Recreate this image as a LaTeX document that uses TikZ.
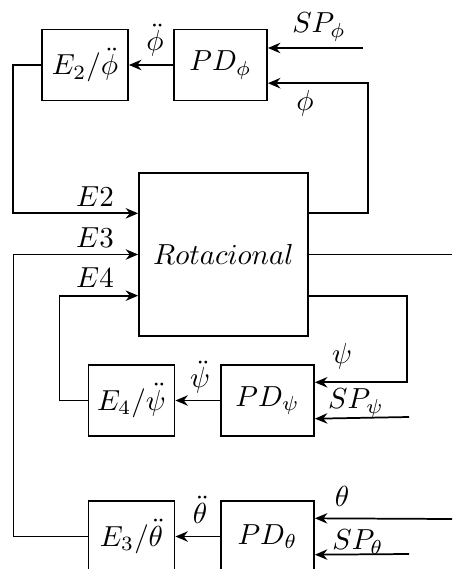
\documentclass[tikz,border=0pt]{standalone}
\usepackage{amsmath,amssymb}
\usepackage{tikz}
\usetikzlibrary{arrows.meta,positioning,calc}

\begin{document}
\begin{tikzpicture}[x=0.345pt,y=-0.345pt,
  blk/.style={draw,line width=0.6pt,minimum width=29.7pt,minimum height=24.5pt,inner sep=0pt},
  pdblk/.style={blk,minimum width=32.1pt},
  arr/.style={-{Stealth[length=4.3pt,width=3.6pt]},line width=0.6pt},
  wire/.style={line width=0.6pt},
  lbl/.style={inner sep=0pt}
]
\useasboundingbox (0,0) rectangle (452,569);
% bloques
\node[blk] (e2) at (85,65) {$E_2/\ddot{\phi}$};
\node[pdblk] (pdphi) at (220.5,65) {$PD_{\phi}$};
\node[draw,line width=0.6pt,minimum width=58.3pt,minimum height=56.2pt] (rot) at (223.5,254.5) {$Rotacional$};
\node[blk] (e4) at (131.5,400.5) {$E_4/\ddot{\psi}$};
\node[pdblk] (pdpsi) at (267.5,400.5) {$PD_{\psi}$};
\node[blk] (e3) at (131.5,536.5) {$E_3/\ddot{\theta}$};
\node[pdblk] (pdth) at (267.5,536.5) {$PD_{\theta}$};
% puntos de entrada y salida
\coordinate (rl1) at ($(rot.north west)!0.25!(rot.south west)$);
\coordinate (rl3) at ($(rot.north west)!0.75!(rot.south west)$);
\coordinate (rr1) at ($(rot.north east)!0.25!(rot.south east)$);
\coordinate (rr3) at ($(rot.north east)!0.75!(rot.south east)$);
\coordinate (phia) at ($(pdphi.north east)!0.25!(pdphi.south east)$);
\coordinate (phib) at ($(pdphi.north east)!0.75!(pdphi.south east)$);
\coordinate (psia) at ($(pdpsi.north east)!0.25!(pdpsi.south east)$);
\coordinate (psib) at ($(pdpsi.north east)!0.75!(pdpsi.south east)$);
\coordinate (tha) at ($(pdth.north east)!0.25!(pdth.south east)$);
\coordinate (thb) at ($(pdth.north east)!0.75!(pdth.south east)$);
\coordinate (spphi) at (363,48);
\coordinate (sppsi) at (409,417);
\coordinate (thin) at (452,519);
\coordinate (spth) at (409,554);
\coordinate (out) at (452,254.5);
% conexiones
\draw[arr] (pdphi) -- (e2);
\draw[arr] (pdpsi) -- (e4);
\draw[arr] (pdth) -- (e3);
\draw[arr] (spphi) -- (spphi -| phia);
\draw[arr] (rr1) -- ++(59,0) |- (phib);
\draw[arr] (rr3) -- ++(98,0) |- (psia);
\draw[arr] (sppsi) -- (psib);
\draw[arr] (thin) -- (tha);
\draw[arr] (spth) -- (thb);
\draw[wire] (rot.east) -- (out);
\draw[arr] (e2.west) -- ++(-28,0) |- (rl1);
\draw[arr] (e3.west) -- ++(-74,0) |- (rot.west);
\draw[arr] (e4.west) -- ++(-28,0) |- (rl3);
% etiquetas
\node[lbl] (le2) at (95,197) {$E2$};
\node[lbl] (le3) at (95,238) {$E3$};
\node[lbl] (le4) at (95,278) {$E4$};
\node[lbl] (lddphi) at (155,40) {$\ddot{\phi}$};
\node[lbl] (lspphi) at (319,27) {$SP_{\phi}$};
\node[lbl] (lphi) at (305,103) {$\phi$};
\node[lbl] (lddpsi) at (200,377) {$\ddot{\psi}$};
\node[lbl] (lpsi) at (342,356) {$\psi$};
\node[lbl] (lsppsi) at (356,403) {$SP_{\psi}$};
\node[lbl] (lddth) at (200,510) {$\ddot{\theta}$};
\node[lbl] (lth) at (342,496) {$\theta$};
\node[lbl] (lspth) at (358,542) {$SP_{\theta}$};
\end{tikzpicture}
\end{document}
